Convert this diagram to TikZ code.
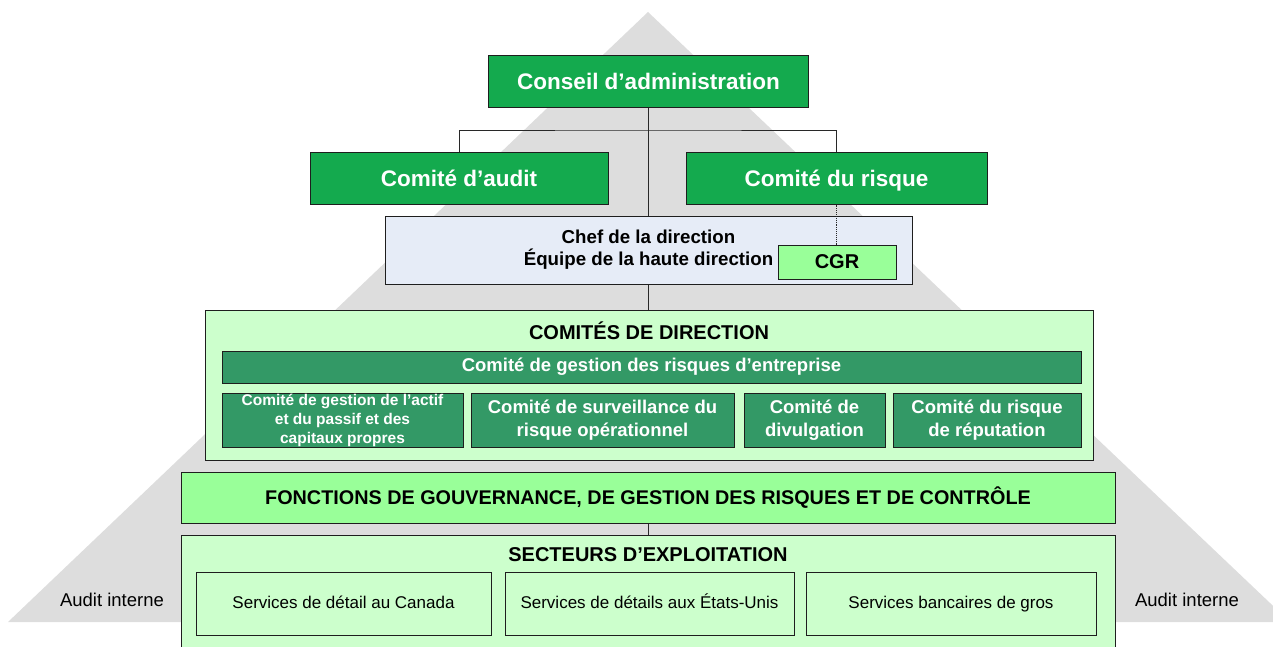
\documentclass[tikz,border=0pt]{standalone}
\usepackage{fontspec}
\setmainfont{Liberation Sans}
\definecolor{triGray}{RGB}{221,221,221}
\definecolor{darkGreen}{RGB}{20,170,78}
\definecolor{midGreen}{RGB}{51,153,102}
\definecolor{paleGreen}{RGB}{204,255,204}
\definecolor{lightGreen}{RGB}{153,255,153}
\definecolor{paleBlue}{RGB}{230,236,247}
\definecolor{edgeCol}{RGB}{30,30,30}
\definecolor{lineCol}{RGB}{40,40,40}
\begin{document}
\begin{tikzpicture}[x=1pt,y=-1pt,
  box/.style={draw=edgeCol, line width=1pt, inner sep=0pt, align=center},
  topbox/.style={box, fill=darkGreen, text=white, font=\fontsize{22.5}{26}\selectfont\bfseries,
                 text height=18pt, text depth=2pt},
  subbox/.style={box, fill=midGreen, text=white, font=\fontsize{18.5}{23}\selectfont\bfseries},
  panel/.style={box, fill=paleGreen},
  title/.style={inner sep=0pt, font=\fontsize{20}{24}\selectfont\bfseries},
  unitbox/.style={box, fill=paleGreen, font=\fontsize{17}{21}\selectfont,
                  text height=13pt, text depth=3pt},
  sidelabel/.style={inner sep=0pt, font=\fontsize{18.5}{22}\selectfont},
  conn/.style={draw=lineCol, line width=0.9pt},
  dotconn/.style={draw=lineCol, line width=0.9pt, densely dotted}
]
\useasboundingbox (0,0) rectangle (1273,647);
\clip (0,0) rectangle (1273,647);
% background pyramid
\fill[triGray] (648,12) -- (8,622) -- (1290,622) -- cycle;

% nodes
\node[topbox, minimum width=320pt, minimum height=52pt] (conseil) at (648.5,82) {Conseil d’administration};
\node[topbox, minimum width=298pt, minimum height=51pt] (audit) at (459,178.5) {Comité d’audit};
\node[topbox, minimum width=301pt, minimum height=51pt] (risque) at (836.5,178.5) {Comité du risque};
\node[box, fill=paleBlue, minimum width=527pt, minimum height=68pt,
      font=\fontsize{18.7}{22}\selectfont\bfseries] (chef) at (648.5,250)
      {Chef de la direction\\Équipe de la haute direction};
\node[box, fill=lightGreen, minimum width=118pt, minimum height=34pt,
      font=\fontsize{20}{24}\selectfont\bfseries] (cgr) at (837,262) {CGR};

\node[panel, minimum width=888pt, minimum height=150pt] (comites) at (649,385) {};
\node[title] (comitesT) at (649,331) {COMITÉS DE DIRECTION};
\node[subbox, minimum width=859pt, minimum height=32pt] (cgre) at (651.5,367) {Comité de gestion des risques d’entreprise};
\node[subbox, minimum width=241pt, minimum height=54pt, font=\fontsize{15.5}{19}\selectfont\bfseries] (c1) at (342.5,420.5)
  {Comité de gestion de l’actif\\et du passif et des\\capitaux propres};
\node[subbox, minimum width=263pt, minimum height=54pt] (c2) at (602.5,420) {Comité de surveillance du\\risque opérationnel};
\node[subbox, minimum width=141pt, minimum height=54pt] (c3) at (814.5,420) {Comité de\\divulgation};
\node[subbox, minimum width=188pt, minimum height=54pt] (c4) at (987,420) {Comité du risque\\de réputation};

\node[box, fill=lightGreen, minimum width=934pt, minimum height=51pt,
      font=\fontsize{19.8}{23}\selectfont\bfseries] (fonctions) at (648,497.5)
      {FONCTIONS DE GOUVERNANCE, DE GESTION DES RISQUES ET DE CONTRÔLE};
\node[panel, minimum width=934pt, minimum height=145pt] (secteurs) at (648,607.5) {};
\node[title] (secteursT) at (648,555) {SECTEURS D’EXPLOITATION};
\node[unitbox, minimum width=295pt, minimum height=63pt] (s1) at (343.5,603.5) {Services de détail au Canada};
\node[unitbox, minimum width=289pt, minimum height=63pt] (s2) at (649.5,603.5) {Services de détails aux États-Unis};
\node[unitbox, minimum width=290pt, minimum height=63pt] (s3) at (951,603.5) {Services bancaires de gros};

\node[sidelabel] (aiL) at (112,600) {Audit interne};
\node[sidelabel] (aiR) at (1187,600) {Audit interne};

% connectors
\coordinate (bus) at (648.5,130);
\draw[conn] (conseil.south) -- (conseil.south |- chef.north);
\draw[conn] (audit.north) |- (bus) -| (risque.north);
\draw[dotconn] (risque.south) -- (risque.south |- cgr.north);
\draw[conn] (chef.south) -- (chef.south |- comites.north);
\draw[conn] (fonctions.south) -- (fonctions.south |- secteurs.north);
\end{tikzpicture}
\end{document}
